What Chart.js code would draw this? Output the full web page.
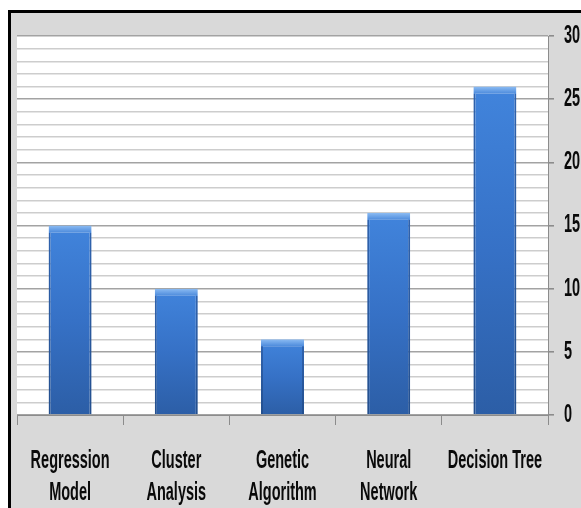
<!DOCTYPE html>
<html>
<head>
<meta charset="utf-8">
<script src="https://cdn.jsdelivr.net/npm/chart.js@4/dist/chart.umd.min.js"></script>
<style>
  html, body { margin: 0; padding: 0; background: #ffffff; width: 581px; height: 508px; overflow: hidden; }
  #frame { position: absolute; left: 8px; top: 10px; width: 620px; height: 540px; border: 3px solid #000; background: #d9d9d9; }
  #wrap { position: absolute; left: 0; top: 0; width: 581px; height: 508px; }
</style>
</head>
<body>
<div id="frame"></div>
<div id="wrap"><canvas id="c" width="581" height="508"></canvas></div>
<script>
const categories = [["Regression", "Model"], ["Cluster", "Analysis"], ["Genetic", "Algorithm"], ["Neural", "Network"], "Decision Tree"];
const values = [15, 10, 6, 16, 26];
const yTickLabels = [0, 5, 10, 15, 20, 25, 30];

const LABEL_SQUEEZE = 0.58;
const BEVEL = 7;

const plotBg = {
  id: 'plotBg',
  beforeDraw(chart) {
    const a = chart.chartArea, ctx = chart.ctx;
    ctx.save();
    ctx.fillStyle = '#ffffff';
    ctx.fillRect(a.left, a.top, a.right - a.left, a.bottom - a.top);
    ctx.restore();
    // condensed look for tick labels (text still drawn by the scales)
    Object.values(chart.scales).forEach((scale) => {
      if (scale._squeezed) return;
      scale._squeezed = true;
      const orig = scale.drawLabels;
      scale.drawLabels = function (area) {
        const c = this.ctx;
        const ft = CanvasRenderingContext2D.prototype.fillText;
        c.fillText = function (t, x, y) {
          this.save();
          this.translate(x, y);
          this.scale(LABEL_SQUEEZE, 1);
          ft.call(this, t, 0, 0);
          this.restore();
        };
        try { orig.call(this, area); } finally { delete c.fillText; }
      };
    });
  }
};

function barSpan(context) {
  const chart = context.chart;
  const y = chart.scales && chart.scales.y;
  if (!chart.chartArea || !y) return null;
  const top = y.getPixelForValue(context.raw);
  const bottom = y.getPixelForValue(0);
  if (!isFinite(top) || !isFinite(bottom) || bottom - top < BEVEL + 2) return null;
  return { top, bottom };
}

function barFill(context) {
  const s = barSpan(context);
  if (!s) return '#3a76cc';
  const g = context.chart.ctx.createLinearGradient(0, s.top, 0, s.bottom);
  g.addColorStop(0, '#4184dc');
  g.addColorStop(0.5, '#3671c6');
  g.addColorStop(1, '#2c5ea6');
  return g;
}

function barEdge(context) {
  const s = barSpan(context);
  if (!s) return '#6aa0e6';
  const h = s.bottom - s.top;
  const f = BEVEL / h;
  const g = context.chart.ctx.createLinearGradient(0, s.top, 0, s.bottom);
  g.addColorStop(0, '#8cbcf3');
  g.addColorStop(f, '#4d8bdc');
  g.addColorStop(Math.min(1, f + 0.5 / h), '#2f62ad');
  g.addColorStop(1, '#234f8e');
  return g;
}

const labelFont = '"Liberation Sans", Arial, sans-serif';

new Chart(document.getElementById('c'), {
  type: 'bar',
  data: {
    labels: categories,
    datasets: [{
      data: values,
      backgroundColor: barFill,
      borderColor: barEdge,
      borderWidth: { top: BEVEL, left: 2, right: 2, bottom: 0 },
      borderSkipped: 'bottom',
      barPercentage: 0.405,
      categoryPercentage: 1.0
    }]
  },
  options: {
    responsive: false,
    animation: false,
    devicePixelRatio: 1,
    layout: { padding: { left: 17, top: 36, right: 0, bottom: 0 } },
    plugins: { legend: { display: false }, tooltip: { enabled: false } },
    scales: {
      x: {
        position: 'bottom',
        offset: true,
        grid: {
          offset: true,
          drawOnChartArea: false,
          drawTicks: true,
          tickLength: 10,
          tickColor: '#8c8c8c',
          tickWidth: 1
        },
        border: { display: true, color: '#8c8c8c', width: 1 },
        ticks: {
          color: '#0a0a0a',
          font: { family: labelFont, size: 25, weight: 'bold', lineHeight: 1.28 },
          padding: 20,
          maxRotation: 0,
          minRotation: 0,
          autoSkip: false
        },
        afterFit(scale) {
          scale.height = 93;
          scale.paddingLeft = 0;
          scale.paddingRight = 0;
        }
      },
      y: {
        position: 'right',
        min: 0,
        max: 30,
        grid: {
          color: (ctx) => (ctx.tick && ctx.tick.value % 5 === 0) ? '#a3a3a3' : '#cdcdcd',
          lineWidth: (ctx) => (ctx.tick && ctx.tick.value % 5 === 0) ? 1.6 : 1.4,
          tickColor: (ctx) => (ctx.tick && ctx.tick.value % 5 === 0) ? '#8c8c8c' : 'rgba(0,0,0,0)',
          tickLength: 6,
          drawTicks: true
        },
        border: { display: true, color: '#8c8c8c', width: 1 },
        ticks: {
          stepSize: 1,
          autoSkip: false,
          color: '#0a0a0a',
          padding: 10,
          font: { family: labelFont, size: 25, weight: 'bold' },
          callback: (v) => yTickLabels.includes(v) ? String(v) : ''
        },
        afterFit(scale) {
          scale.width = 33;
          scale.paddingTop = 0;
          scale.paddingBottom = 0;
        }
      }
    }
  },
  plugins: [plotBg]
});
</script>
</body>
</html>
